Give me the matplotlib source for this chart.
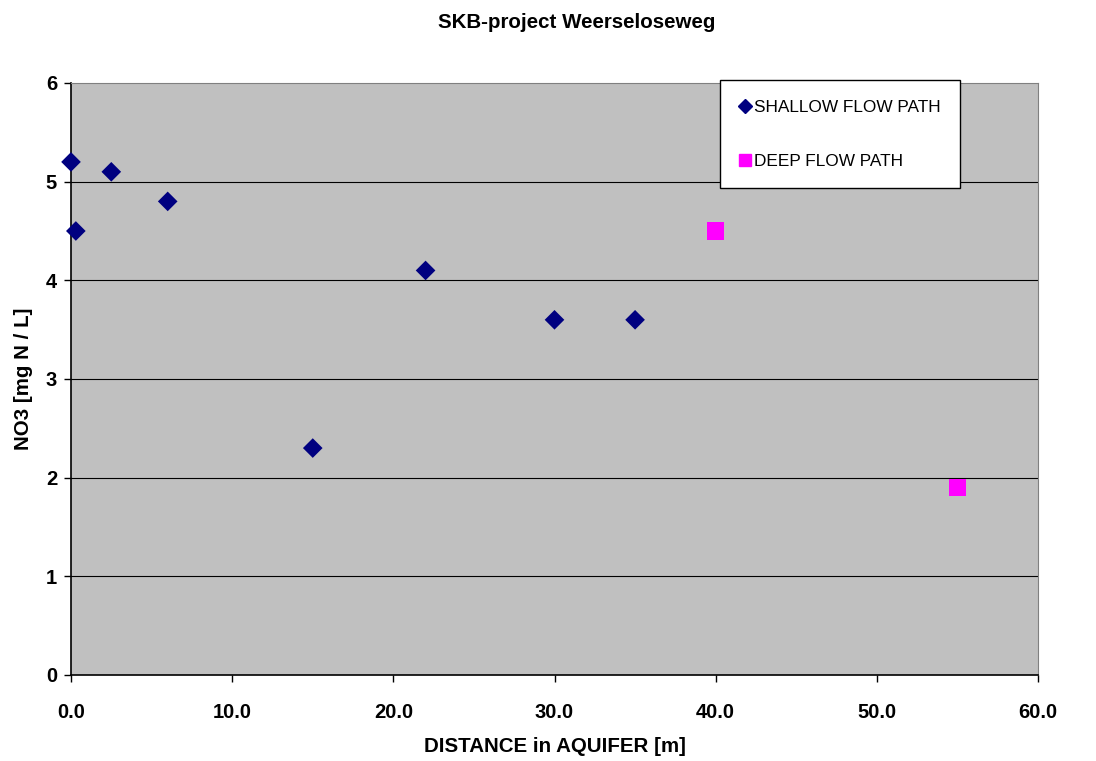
import matplotlib
matplotlib.use("Agg")
import matplotlib.pyplot as plt
from matplotlib.lines import Line2D

# Nitrate along the two flow paths
shallow_x = [0.0, 0.3, 2.5, 6.0, 15.0, 22.0, 30.0, 35.0]
shallow_y = [5.2, 4.5, 5.1, 4.8, 2.3, 4.1, 3.6, 3.6]
deep_x = [40.0, 55.0]
deep_y = [4.5, 1.9]

x_ticks = [0, 10, 20, 30, 40, 50, 60]
y_ticks = [0, 1, 2, 3, 4, 5, 6]

plt.rcParams['font.family'] = ['Liberation Sans', 'DejaVu Sans']

W, H = 1096, 761
fig = plt.figure(figsize=(W / 100, H / 100), dpi=100)
ax = fig.add_axes([71 / W, 1 - 675 / H, (1038 - 71) / W, (675 - 83) / H])
ax.set_facecolor('#c0c0c0')
ax.set_xlim(0, 60)
ax.set_ylim(0, 6)

for y in y_ticks[1:-1]:
    ax.axhline(y, color='black', lw=0.8, zorder=1)

ax.scatter(shallow_x, shallow_y, marker='D', s=100, color='#000080',
           edgecolors='none', zorder=3, clip_on=False)
ax.scatter(deep_x, deep_y, marker='s', s=160, color='#ff00ff',
           edgecolors='none', zorder=3, clip_on=False)

ax.set_xticks(x_ticks)
ax.set_xticklabels([f"{v:.1f}" for v in x_ticks])
ax.set_yticks(y_ticks)
ax.set_yticklabels([str(v) for v in y_ticks])
ax.tick_params(direction='out', length=5, width=1, labelsize=14.5)
ax.tick_params(axis='x', pad=15)
ax.tick_params(axis='y', pad=5)
for lab in ax.get_xticklabels() + ax.get_yticklabels():
    lab.set_fontweight('bold')

for side in ('top', 'right'):
    ax.spines[side].set_color('#808080')
for side in ('left', 'bottom'):
    ax.spines[side].set_color('black')
    ax.spines[side].set_linewidth(1.2)

ax.set_xlabel('DISTANCE in AQUIFER [m]', fontsize=14.8, fontweight='bold', labelpad=11)
ax.set_ylabel('NO3 [mg N / L]', fontsize=14.8, fontweight='bold', labelpad=9)
fig.text(0.5 * (437 + 716) / W, 1 - 22 / H, 'SKB-project Weerseloseweg',
         ha='center', va='center', fontsize=14.8, fontweight='bold')

handles = [
    Line2D([], [], marker='D', ls='none', color='#000080', markersize=7),
    Line2D([], [], marker='s', ls='none', color='#ff00ff', markersize=9),
]
leg = fig.legend(handles, ['SHALLOW FLOW PATH', 'DEEP FLOW PATH'],
                 loc='upper left', bbox_to_anchor=(720 / W, 1 - 80 / H),
                 frameon=True, fancybox=False, fontsize=12.4,
                 handlelength=0.6, handletextpad=0.2, labelspacing=2.25,
                 borderpad=1.15, borderaxespad=0)
leg.get_frame().set_edgecolor('black')
leg.get_frame().set_linewidth(1.0)
leg.get_frame().set_facecolor('white')
leg.get_frame().set_alpha(1)

fig.savefig('out.png', dpi=100)
